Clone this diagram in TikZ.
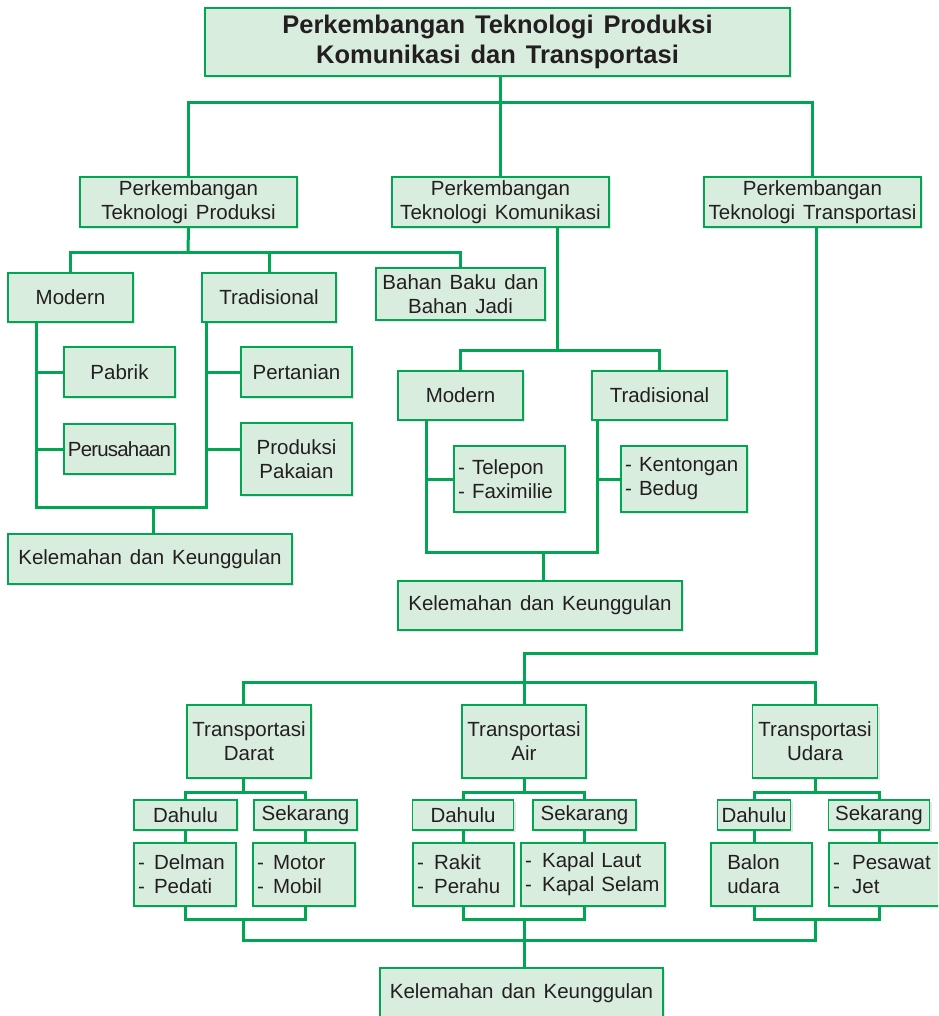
\documentclass[tikz,border=0pt]{standalone}
\usepackage{fontspec}
\setmainfont{Liberation Sans}[WordSpace=1.4]
\usetikzlibrary{shadows}
\definecolor{boxgreen}{HTML}{D9EDDE}
\definecolor{linegreen}{HTML}{00A651}
\definecolor{inkgrey}{HTML}{231F20}

\begin{document}
\begin{tikzpicture}[x=1pt,y=-1pt,
  box/.style={draw=linegreen,line width=1.8pt,fill=boxgreen,text=inkgrey,
    inner sep=2pt,align=center,font=\fontsize{20.5}{24}\selectfont,
    drop shadow={shadow xshift=2pt,shadow yshift=-2pt,fill=black!20,opacity=.5}},
  list/.style={box,align=left,inner xsep=4pt,text width=#1},
  link/.style={draw=linegreen,line width=3pt}]
\clip (0,0) rectangle (938,1016);
\fill[white] (0,0) rectangle (938,1016);

\node[box,minimum width=585,minimum height=68,
  font=\bfseries\fontsize{25.5}{30}\selectfont] (title) at (497.5,42)
  {Perkembangan Teknologi Produksi\\Komunikasi dan Transportasi};

\node[box,minimum width=217,minimum height=50] (prod) at (188.5,202) {Perkembangan\\Teknologi Produksi};
\node[box,minimum width=217,minimum height=50] (kom) at (500.5,202) {Perkembangan\\Teknologi Komunikasi};
\node[box,minimum width=217,minimum height=50] (trans) at (812.5,202) {Perkembangan\\Teknologi Transportasi};

% produksi
\node[box,minimum width=125,minimum height=49] (pmodern) at (70.5,297.5) {Modern};
\node[box,minimum width=134,minimum height=49] (ptradisi) at (269,297.5) {Tradisional};
\node[box,minimum width=169,minimum height=52] (bahan) at (460.5,294) {Bahan Baku dan\\Bahan Jadi};
\node[box,minimum width=111,minimum height=50] (pabrik) at (119.5,372) {Pabrik};
\node[box,minimum width=111,minimum height=50] (perusahaan) at (119.5,449) {{\addfontfeatures{LetterSpace=-4}Perusahaan}};
\node[box,minimum width=111,minimum height=50] (pertanian) at (296.5,372) {Pertanian};
\node[box,minimum width=111,minimum height=72] (pakaian) at (296.5,459) {Produksi\\Pakaian};
\node[box,minimum width=284,minimum height=50] (pkelemahan) at (150,559) {Kelemahan dan Keunggulan};

% komunikasi
\node[box,minimum width=125,minimum height=49] (kmodern) at (460.5,395.5) {Modern};
\node[box,minimum width=135,minimum height=49] (ktradisi) at (659.5,395.5) {Tradisional};
\node[list=103,minimum height=66] (telepon) at (509.5,479) {-\hspace{0.35em}Telepon\\-\hspace{0.35em}Faximilie};
\node[list=118,minimum height=66] (kentongan) at (684,479) {-\hspace{0.35em}Kentongan\\-\hspace{0.35em}Bedug};
\node[box,minimum width=284,minimum height=49] (kkelemahan) at (540,605.5) {Kelemahan dan Keunggulan};

% transportasi
\node[box,minimum width=124,minimum height=73] (darat) at (249,741.5) {Transportasi\\Darat};
\node[box,minimum width=124,minimum height=73] (air) at (524,741.5) {Transportasi\\Air};
\node[box,minimum width=125,minimum height=73] (udara) at (815,741.5) {Transportasi\\Udara};

\node[box,minimum width=103,minimum height=30] (ddahulu) at (185.5,815) {Dahulu};
\node[box,minimum width=103,minimum height=30] (dsekarang) at (305.5,815) {Sekarang};
\node[list=94,minimum height=63] (dlist) at (185,874.5) {-\hspace{0.45em}Delman\\-\hspace{0.45em}Pedati};
\node[list=94,minimum height=63] (dnow) at (304,874.5) {-\hspace{0.45em}Motor\\-\hspace{0.45em}Mobil};

\node[box,minimum width=101,minimum height=30] (adahulu) at (463,815) {Dahulu};
\node[box,minimum width=103,minimum height=30] (asekarang) at (584.5,815) {Sekarang};
\node[list=93,minimum height=63] (alist) at (463.5,874.5) {-\hspace{0.5em}Rakit\\-\hspace{0.5em}Perahu};
\node[list=136,minimum height=63] (anow) at (593,874.5) {-\hspace{0.5em}Kapal Laut\\-\hspace{0.5em}Kapal Selam};

\node[box,minimum width=73,minimum height=30] (udahulu) at (754,815) {Dahulu};
\node[box,minimum width=101,minimum height=30] (usekarang) at (879,815) {Sekarang};
\node[list=93,minimum height=63] (ulist) at (761.5,874.5) {\hspace*{0.6em}Balon\\\hspace*{0.6em}udara};
\node[list=112,minimum height=63] (unow) at (889,874.5) {-\hspace{0.6em}Pesawat\\-\hspace{0.6em}Jet};

\node[box,minimum width=283,minimum height=50] (tkelemahan) at (521.5,993) {Kelemahan dan Keunggulan};

% top
\coordinate (top) at (500,103);
\draw[link] (top |- title.south) -- (top);
\draw[link] (prod.north) |- (top) -| (trans.north);
\draw[link] (kom.north) -- (kom.north |- top);

% produksi lines
\coordinate (pj) at (188,252);
\draw[link] (prod.south) -- (pj);
\draw[link] (pmodern.north) |- (pj) -| (bahan.north);
\draw[link] (ptradisi.north) -- (ptradisi.north |- pj);
\coordinate (pl) at (36,507);
\coordinate (pr) at (206,507);
\draw[link] (pl |- pmodern.south) -- (pl) -- (pr) -- (pr |- ptradisi.south);
\draw[link] (pl |- pabrik.west) -- (pabrik.west);
\draw[link] (pl |- perusahaan.west) -- (perusahaan.west);
\draw[link] (pr |- pertanian.west) -- (pertanian.west);
\draw[link] (pr |- 0,449) -- (pakaian.west |- 0,449);
\coordinate (pm) at (153,507);
\draw[link] (pm) -- (pm |- pkelemahan.north);

% komunikasi lines
\coordinate (kj) at (557,350);
\draw[link] (kj |- kom.south) -- (kj);
\draw[link] (kmodern.north) |- (kj) -| (ktradisi.north);
\coordinate (kl) at (426,552);
\coordinate (kr) at (597,552);
\draw[link] (kl |- kmodern.south) -- (kl) -- (kr) -- (kr |- ktradisi.south);
\draw[link] (kl |- telepon.west) -- (telepon.west);
\draw[link] (kr |- kentongan.west) -- (kentongan.west);
\coordinate (km) at (543,552);
\draw[link] (km) -- (km |- kkelemahan.north);

% transportasi lines
\coordinate (tj) at (524,653);
\coordinate (tk) at (524,682);
\draw[link] ([xshift=3.5pt]trans.south) |- (tj) -- (tk);
\draw[link] ([xshift=-6pt]darat.north) |- (tk) -| (udara.north);
\draw[link] (air.north) -- (tk);

\coordinate (dj) at (243,792);
\draw[link] ([xshift=-6pt]darat.south) -- (dj);
\draw[link] (ddahulu.north) |- (dj) -| (dsekarang.north);
\draw[link] (ddahulu.south) -- (ddahulu.south |- dlist.north);
\draw[link] (dsekarang.south) -- (dsekarang.south |- dnow.north);
\coordinate (db) at (243,919);
\draw[link] (ddahulu |- dlist.south) |- (db) -| (dsekarang |- dnow.south);

\coordinate (aj) at (524,792);
\draw[link] (air.south) -- (aj);
\draw[link] (adahulu.north) |- (aj) -| (asekarang.north);
\draw[link] (adahulu.south) -- (adahulu.south |- alist.north);
\draw[link] (asekarang.south) -- (asekarang.south |- anow.north);
\coordinate (ab) at (524,919);
\draw[link] (adahulu |- alist.south) |- (ab) -| (asekarang |- anow.south);

\coordinate (uj) at (815,792);
\draw[link] (udara.south) -- (uj);
\draw[link] (udahulu.north) |- (uj) -| (usekarang.north);
\draw[link] (udahulu.south) -- (udahulu.south |- ulist.north);
\draw[link] (usekarang.south) -- (usekarang.south |- unow.north);
\coordinate (ub) at (815,919);
\draw[link] (udahulu |- ulist.south) |- (ub) -| (usekarang |- unow.south);

\coordinate (bl) at (243,940);
\coordinate (br) at (815,940);
\draw[link] (db) -- (bl) -- (br) -- (ub);
\draw[link] (ab) -- (ab |- tkelemahan.north);
\end{tikzpicture}
\end{document}
